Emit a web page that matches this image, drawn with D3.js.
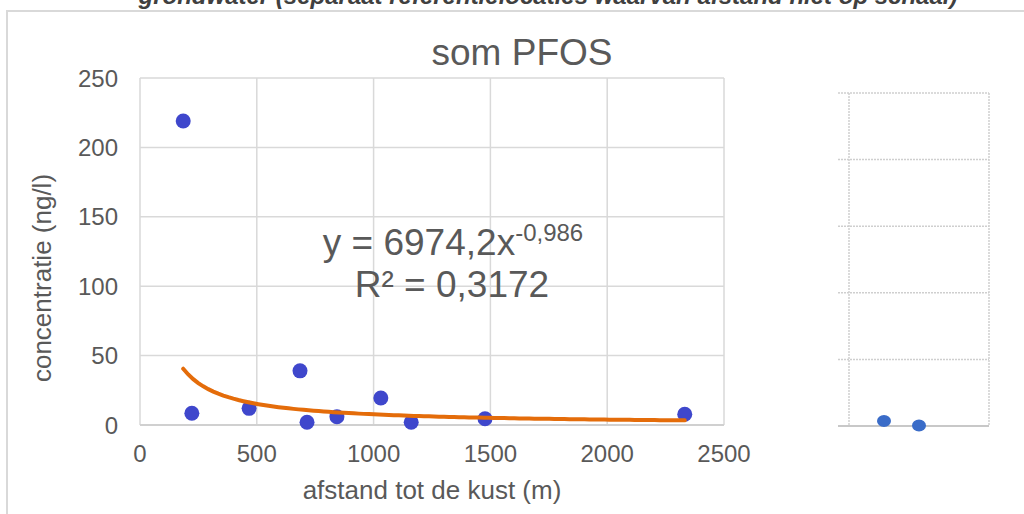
<!DOCTYPE html>
<html>
<head>
<meta charset="utf-8">
<script src="https://cdn.jsdelivr.net/npm/d3@7"></script>
<style>
  body { margin: 0; background: #fff; }
  svg text { font-family: "Liberation Sans", Arial, sans-serif; }
</style>
</head>
<body>
<script>
// distance to coast (m) and summed PFOS (ng/l)
var afstand = [185, 222, 467, 685, 715, 843, 1031, 1161, 1477, 2332];
var concentratie = [219, 8.5, 12, 39, 2, 6, 19.5, 2, 4.5, 7.7];

// separate reference locations (distance not to scale)
var refPos = [1, 2];
var refConc = [3.8, 0.3];

var xTicks = [0, 500, 1000, 1500, 2000, 2500];
var yTicks = [0, 50, 100, 150, 200, 250];

// power trendline y = a * x^b
var fitA = 6974.2, fitB = -0.986;

var W = 1024, H = 514;

var svg = d3.select("body").append("svg")
    .attr("width", W)
    .attr("height", H);

// outer frame
svg.append("rect")
    .attr("x", 7).attr("y", 11)
    .attr("width", 1040).attr("height", 530)
    .attr("fill", "#fff")
    .attr("stroke", "#d9d9d9")
    .attr("stroke-width", 2);

// caption, cut at the top like in the source
svg.append("text")
    .attr("x", 548).attr("y", 4)
    .attr("text-anchor", "middle")
    .style("font-size", "24px")
    .style("font-weight", "bold")
    .style("font-style", "italic")
    .style("fill", "#404040")
    .text("grondwater (separaat referentielocaties waarvan afstand niet op schaal)");

var x = d3.scaleLinear().domain([0, 2500]).range([140, 724]);
var y = d3.scaleLinear().domain([0, 250]).range([425, 78]);

// grid
svg.selectAll("line.hgrid").data(yTicks.filter(function(d) { return d > 0; })).enter()
  .append("line")
    .attr("class", "hgrid")
    .attr("x1", x(0)).attr("x2", x(2500))
    .attr("y1", function(d) { return y(d); })
    .attr("y2", function(d) { return y(d); })
    .attr("stroke", "#d9d9d9")
    .attr("stroke-width", 1.5);

svg.selectAll("line.vgrid").data(xTicks).enter()
  .append("line")
    .attr("class", "vgrid")
    .attr("x1", function(d) { return x(d); })
    .attr("x2", function(d) { return x(d); })
    .attr("y1", y(250)).attr("y2", y(0))
    .attr("stroke", "#d9d9d9")
    .attr("stroke-width", 1.5);

svg.append("line")
    .attr("x1", x(0)).attr("x2", x(2500))
    .attr("y1", y(0)).attr("y2", y(0))
    .attr("stroke", "#d0d0d0")
    .attr("stroke-width", 2);

// tick labels
svg.selectAll("text.ylab").data(yTicks).enter()
  .append("text")
    .attr("class", "ylab")
    .attr("x", 118)
    .attr("y", function(d) { return y(d) + 8.5; })
    .attr("text-anchor", "end")
    .style("font-size", "24px")
    .style("fill", "#595959")
    .text(function(d) { return d; });

svg.selectAll("text.xlab").data(xTicks).enter()
  .append("text")
    .attr("class", "xlab")
    .attr("x", function(d) { return x(d); })
    .attr("y", 462)
    .attr("text-anchor", "middle")
    .style("font-size", "24px")
    .style("fill", "#595959")
    .text(function(d) { return d; });

// axis titles
svg.append("text")
    .attr("x", 432).attr("y", 499)
    .attr("text-anchor", "middle")
    .style("font-size", "26px")
    .style("fill", "#595959")
    .text("afstand tot de kust (m)");

svg.append("text")
    .attr("transform", "translate(51,278) rotate(-90)")
    .attr("text-anchor", "middle")
    .style("font-size", "26px")
    .style("fill", "#595959")
    .text("concentratie (ng/l)");

// chart title
svg.append("text")
    .attr("x", 522).attr("y", 65)
    .attr("text-anchor", "middle")
    .style("font-size", "37px")
    .style("fill", "#595959")
    .text("som PFOS");

// points
svg.selectAll("circle.pt").data(afstand).enter()
  .append("circle")
    .attr("class", "pt")
    .attr("cx", function(d) { return x(d); })
    .attr("cy", function(d, i) { return y(concentratie[i]); })
    .attr("r", 7.5)
    .attr("fill", "#3f47cc");

// trendline over the data range
var xmin = d3.min(afstand), xmax = d3.max(afstand);
var fit = d3.range(0, 101).map(function(k) {
  var xv = xmin + (xmax - xmin) * k / 100;
  return [xv, fitA * Math.pow(xv, fitB)];
});
svg.append("path")
    .datum(fit)
    .attr("d", d3.line()
        .x(function(d) { return x(d[0]); })
        .y(function(d) { return y(d[1]); }))
    .attr("fill", "none")
    .attr("stroke", "#e46c0a")
    .attr("stroke-width", 4)
    .attr("stroke-linecap", "round");

// equation label
var eq = svg.append("text")
    .attr("x", 453).attr("y", 255)
    .attr("text-anchor", "middle")
    .style("font-size", "37px")
    .style("fill", "#595959");
eq.append("tspan").text("y = 6974,2x");
eq.append("tspan")
    .attr("dy", -14)
    .style("font-size", "24px")
    .text("-0,986");

svg.append("text")
    .attr("x", 452).attr("y", 297)
    .attr("text-anchor", "middle")
    .style("font-size", "37px")
    .style("fill", "#595959")
    .text("R\u00b2 = 0,3172");

// reference panel
var x2 = d3.scaleLinear().domain([0, 4]).range([849, 989]);
var y2 = d3.scaleLinear().domain([0, 250]).range([426, 93]);

svg.selectAll("line.rh").data(yTicks.filter(function(d) { return d > 0; })).enter()
  .append("line")
    .attr("class", "rh")
    .attr("x1", 838).attr("x2", x2(4))
    .attr("y1", function(d) { return y2(d); })
    .attr("y2", function(d) { return y2(d); })
    .attr("stroke", "#cfcfcf")
    .attr("stroke-width", 1.5)
    .attr("stroke-dasharray", "2,1");

svg.selectAll("line.rv").data([0, 4]).enter()
  .append("line")
    .attr("class", "rv")
    .attr("x1", function(d) { return x2(d); })
    .attr("x2", function(d) { return x2(d); })
    .attr("y1", y2(250)).attr("y2", y2(0))
    .attr("stroke", "#cfcfcf")
    .attr("stroke-width", 1.5)
    .attr("stroke-dasharray", "2,1");

svg.append("line")
    .attr("x1", 838).attr("x2", x2(4))
    .attr("y1", y2(0)).attr("y2", y2(0))
    .attr("stroke", "#c8c8c8")
    .attr("stroke-width", 2);

svg.selectAll("ellipse.rp").data(refPos).enter()
  .append("ellipse")
    .attr("class", "rp")
    .attr("cx", function(d) { return x2(d); })
    .attr("cy", function(d, i) { return y2(refConc[i]); })
    .attr("rx", 7).attr("ry", 6)
    .attr("fill", "#3a6cc8");
</script>
</body>
</html>
